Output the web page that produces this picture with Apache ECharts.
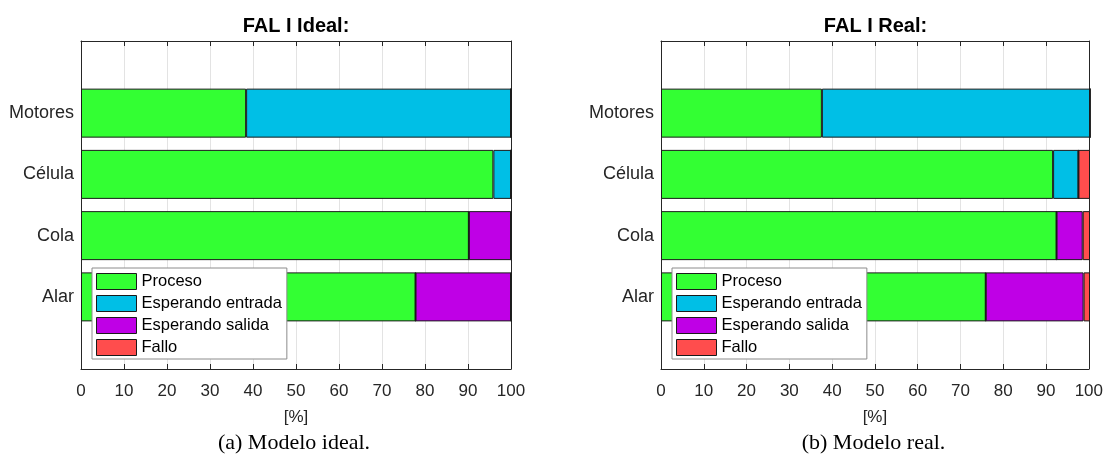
<!DOCTYPE html>
<html>
<head>
<meta charset="utf-8">
<script src="https://cdn.jsdelivr.net/npm/echarts@6/dist/echarts.min.js"></script>
<style>
  html, body { margin: 0; padding: 0; background: #fff; }
  #chart { width: 1106px; height: 457px; }
</style>
</head>
<body>
<div id="chart"></div>
<script>
// Occupancy breakdown per station, in percent of total time
const categories = ['Motores', 'Célula', 'Cola', 'Alar'];
const stateNames = ['Proceso', 'Esperando entrada', 'Esperando salida', 'Fallo'];
const stateColors = ['#33FF33', '#00BFE6', '#BF00E6', '#FF4D4D'];

const idealProceso = [38.4, 95.9, 90.2, 77.8];
const idealEntrada = [61.6, 4.1, 0, 0];
const idealSalida  = [0, 0, 9.8, 22.2];
const idealFallo   = [0, 0, 0, 0];

const realProceso = [37.5, 91.4, 92.2, 75.7];
const realEntrada = [62.5, 5.9, 0, 0];
const realSalida  = [0, 0, 6.1, 22.8];
const realFallo   = [0, 2.7, 1.7, 1.5];

const xMin = 0, xMax = 100, xStep = 10;

const panelTitles = ['FAL I Ideal:', 'FAL I Real:'];
const panelCaptions = ['(a) Modelo ideal.', '(b) Modelo real.'];
const xAxisName = '[%]';

// panel layout
const panels = [
  { left: 81, width: 430 },
  { left: 661, width: 429 }
];
const frameTop = 41, frameHeight = 328;
const barTop = 82.5, barHeight = 245;

const axisColor = '#262626';
const font = '"Liberation Sans", Arial, sans-serif';

const grids = [];
const xAxes = [];
const yAxes = [];
const series = [];
const legends = [];
const graphics = [];

const boxLine = { show: true, onZero: false, lineStyle: { color: axisColor, width: 1 } };

panels.forEach((p, i) => {
  // frame grid: box, gridlines and x ticks
  grids.push({ left: p.left, top: frameTop, width: p.width, height: frameHeight });
  // bar grid: category band area
  grids.push({ left: p.left, top: barTop, width: p.width, height: barHeight });
  const gFrame = i * 2, gBar = i * 2 + 1;

  xAxes.push({
    type: 'value', gridIndex: gFrame, position: 'bottom',
    min: xMin, max: xMax, interval: xStep,
    name: xAxisName, nameLocation: 'middle', nameGap: 40,
    nameTextStyle: { fontFamily: font, fontSize: 17, color: '#262626' },
    axisLine: boxLine,
    axisTick: { show: true, inside: true, length: 5, lineStyle: { color: axisColor } },
    axisLabel: { fontFamily: font, fontSize: 17, color: '#262626', margin: 14 },
    splitLine: { show: true, lineStyle: { color: '#e3e3e3', width: 1 } }
  });
  xAxes.push({
    type: 'value', gridIndex: gFrame, position: 'top',
    min: xMin, max: xMax, interval: xStep,
    axisLine: boxLine,
    axisTick: { show: true, inside: true, length: 5, lineStyle: { color: axisColor } },
    axisLabel: { show: false },
    splitLine: { show: false }
  });
  xAxes.push({
    type: 'value', gridIndex: gBar, min: xMin, max: xMax, show: false
  });
  const xBar = i * 3 + 2;

  ['left', 'right'].forEach(pos => {
    yAxes.push({
      type: 'value', gridIndex: gFrame, position: pos, min: 0, max: 1,
      axisLine: boxLine,
      axisTick: { show: false }, axisLabel: { show: false }, splitLine: { show: false }
    });
  });
  yAxes.push({
    type: 'category', gridIndex: gBar, position: 'left', inverse: true,
    data: categories,
    axisLine: { show: false, onZero: false },
    axisTick: { show: true, inside: true, alignWithLabel: true, length: 5, lineStyle: { color: axisColor } },
    axisLabel: { fontFamily: font, fontSize: 18, color: '#262626', margin: 7 },
    splitLine: { show: false }
  });
  yAxes.push({
    type: 'category', gridIndex: gBar, position: 'right', inverse: true,
    data: categories,
    axisLine: { show: false, onZero: false },
    axisTick: { show: true, inside: true, alignWithLabel: true, length: 5, lineStyle: { color: axisColor } },
    axisLabel: { show: false },
    splitLine: { show: false }
  });
  const yBar = i * 4 + 2;

  const values = i === 0
    ? [idealProceso, idealEntrada, idealSalida, idealFallo]
    : [realProceso, realEntrada, realSalida, realFallo];
  values.forEach((vals, k) => {
    series.push({
      type: 'bar', name: stateNames[k],
      xAxisIndex: xBar, yAxisIndex: yBar,
      stack: 'panel' + i, barWidth: '80%',
      data: vals,
      itemStyle: { color: stateColors[k], borderColor: '#1a1a1a', borderWidth: 1 },
      emphasis: { disabled: true },
      silent: true
    });
  });

  legends.push({
    orient: 'vertical',
    left: p.left + 11, top: 268,
    data: stateNames,
    selectedMode: false,
    icon: 'rect',
    itemWidth: 40, itemHeight: 16, itemGap: 5,
    padding: [5, 5, 3, 4],
    backgroundColor: '#fff',
    borderColor: '#8c8c8c', borderWidth: 1, borderRadius: 0,
    itemStyle: { borderWidth: 1, borderColor: '#1a1a1a' },
    textStyle: { fontFamily: font, fontSize: 16.5, color: '#000', lineHeight: 16 },
    z: 10
  });

  const cx = p.left + p.width / 2;
  graphics.push({
    type: 'text', x: cx, y: 26, z: 10,
    style: { text: panelTitles[i], font: 'bold 20px ' + font, fill: '#000', align: 'center', verticalAlign: 'middle' }
  });
  graphics.push({
    type: 'text', x: cx - 2, y: 443, z: 10,
    style: { text: panelCaptions[i], font: '22px "Liberation Serif", "Times New Roman", serif', fill: '#000', align: 'center', verticalAlign: 'middle' }
  });
});

const chart = echarts.init(document.getElementById('chart'), null, { renderer: 'canvas' });
chart.setOption({
  animation: false,
  backgroundColor: '#fff',
  textStyle: { fontFamily: font },
  grid: grids,
  xAxis: xAxes,
  yAxis: yAxes,
  legend: legends,
  series: series,
  graphic: graphics
});
</script>
</body>
</html>
